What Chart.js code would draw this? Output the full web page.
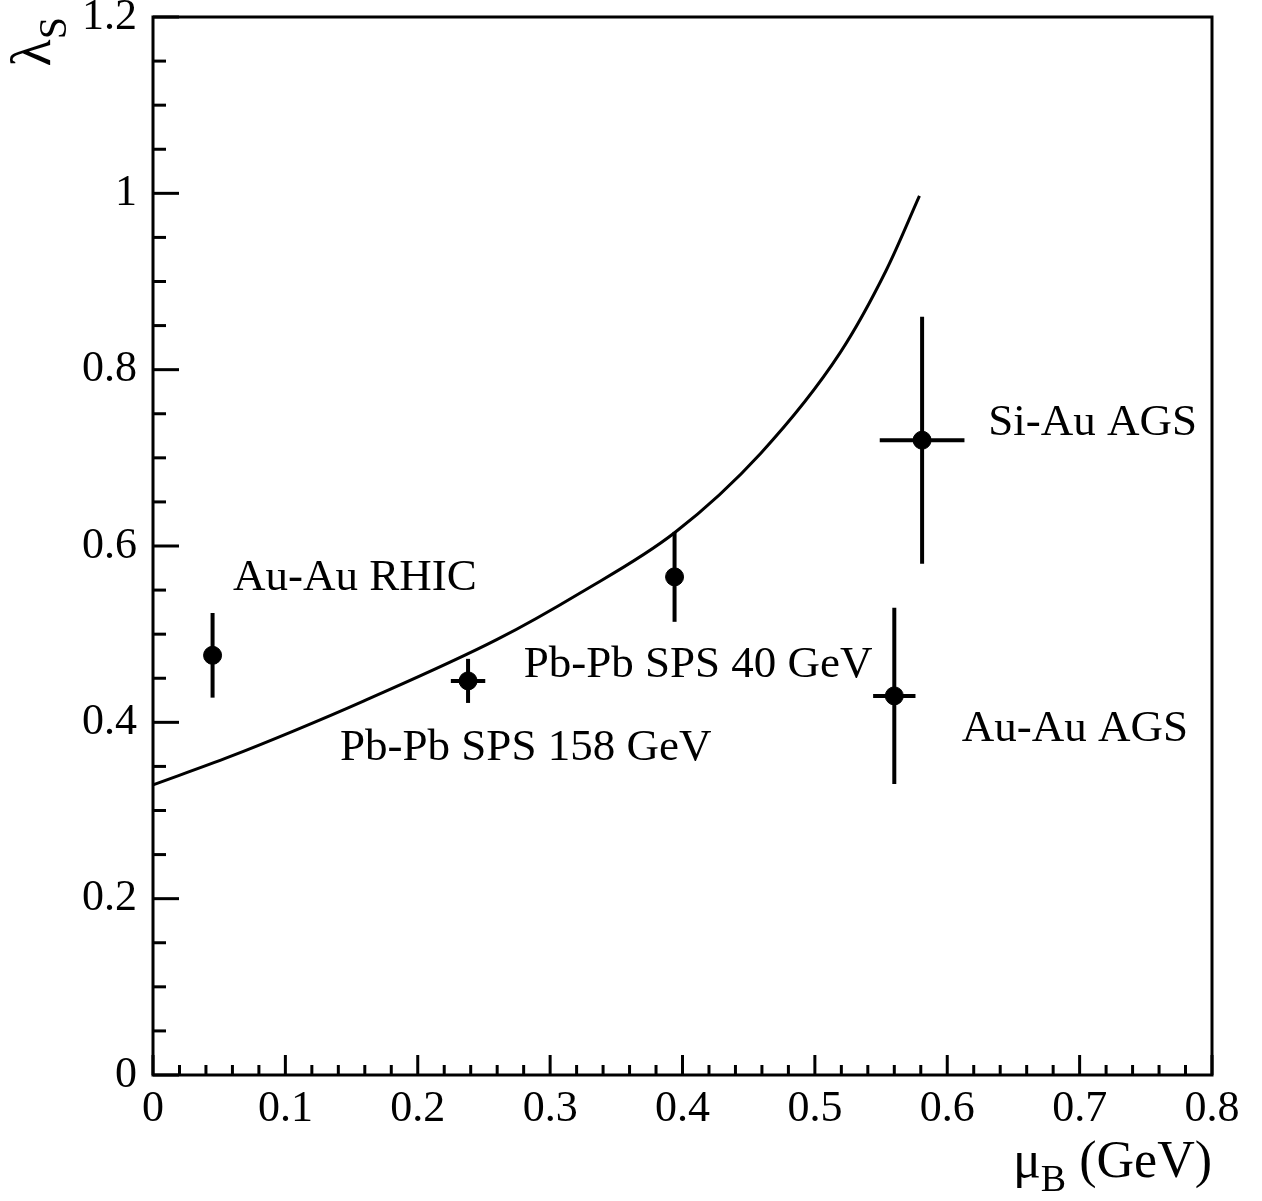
<!DOCTYPE html>
<html>
<head>
<meta charset="utf-8">
<script src="https://cdn.jsdelivr.net/npm/chart.js@4"></script>
<style>
html,body{margin:0;padding:0;background:#fff;}
canvas{display:block;}
</style>
</head>
<body>
<canvas id="c" width="1262" height="1201"></canvas>
<script>
// ---- data ----
const pointNames = ["Au-Au RHIC", "Pb-Pb SPS 158 GeV", "Pb-Pb SPS 40 GeV", "Au-Au AGS", "Si-Au AGS"];
const muB      = [0.045, 0.238, 0.394, 0.560, 0.581];
const lambdaS  = [0.476, 0.447, 0.565, 0.430, 0.720];
const muBErr   = [0.000, 0.013, 0.000, 0.016, 0.032];
const lambdaErr= [0.048, 0.025, 0.051, 0.100, 0.140];

const curveMuB    = [0.000, 0.058, 0.106, 0.159, 0.260, 0.323, 0.394, 0.459, 0.519, 0.554, 0.579];
const curveLambda = [0.329, 0.361, 0.390, 0.424, 0.494, 0.547, 0.615, 0.705, 0.819, 0.913, 0.997];

const xTicks = [0, 0.1, 0.2, 0.3, 0.4, 0.5, 0.6, 0.7, 0.8];
const yTicks = [0, 0.2, 0.4, 0.6, 0.8, 1.0, 1.2];

// label anchors (left, baseline) in data coordinates
const labelMuB    = [0.0604, 0.1413, 0.280, 0.611, 0.631];
const labelLambda = [0.550, 0.357, 0.451, 0.379, 0.726];

const SERIF = '"Liberation Serif", "DejaVu Serif", serif';

const pts = muB.map((x, i) => ({x: x, y: lambdaS[i]}));
const curve = curveMuB.map((x, i) => ({x: x, y: curveLambda[i]}));

const decor = {
  id: 'decor',
  beforeDatasetsDraw(chart) {
    const ctx = chart.ctx, xs = chart.scales.x, ys = chart.scales.y;
    ctx.save();
    ctx.strokeStyle = '#000';
    ctx.lineWidth = 4;
    ctx.lineCap = 'butt';
    for (let i = 0; i < muB.length; i++) {
      const px = xs.getPixelForValue(muB[i]);
      const py = ys.getPixelForValue(lambdaS[i]);
      if (lambdaErr[i] > 0) {
        ctx.beginPath();
        ctx.moveTo(px, ys.getPixelForValue(lambdaS[i] - lambdaErr[i]));
        ctx.lineTo(px, ys.getPixelForValue(lambdaS[i] + lambdaErr[i]));
        ctx.stroke();
      }
      if (muBErr[i] > 0) {
        ctx.beginPath();
        ctx.moveTo(xs.getPixelForValue(muB[i] - muBErr[i]), py);
        ctx.lineTo(xs.getPixelForValue(muB[i] + muBErr[i]), py);
        ctx.stroke();
      }
    }
    ctx.restore();
  },
  afterDraw(chart) {
    const ctx = chart.ctx, xs = chart.scales.x, ys = chart.scales.y;
    const a = chart.chartArea;
    ctx.save();
    ctx.strokeStyle = '#000';
    ctx.lineWidth = 3;
    ctx.strokeRect(a.left, a.top, a.right - a.left, a.bottom - a.top);
    // x ticks (inward)
    for (let k = 0; k <= 40; k++) {
      const v = k * 0.02;
      const px = xs.getPixelForValue(v);
      const len = (k % 5 === 0) ? 20 : 10;
      ctx.beginPath();
      ctx.moveTo(px, a.bottom);
      ctx.lineTo(px, a.bottom - len);
      ctx.stroke();
    }
    // y ticks (inward)
    for (let k = 0; k <= 24; k++) {
      const v = k * 0.05;
      const py = ys.getPixelForValue(v);
      const len = (k % 4 === 0) ? 26 : 13;
      ctx.beginPath();
      ctx.moveTo(a.left, py);
      ctx.lineTo(a.left + len, py);
      ctx.stroke();
    }
    // point labels
    ctx.fillStyle = '#000';
    ctx.font = '45px ' + SERIF;
    ctx.textAlign = 'left';
    ctx.textBaseline = 'alphabetic';
    for (let i = 0; i < pointNames.length; i++) {
      ctx.fillText(pointNames[i], xs.getPixelForValue(labelMuB[i]), ys.getPixelForValue(labelLambda[i]));
    }
    // x title: μB (GeV), right aligned at axis end
    const main = '52px ' + SERIF, sub = '38px ' + SERIF;
    ctx.font = main; const wMu = ctx.measureText('\u03bc').width; const wRest = ctx.measureText(' (GeV)').width;
    ctx.font = sub; const wB = ctx.measureText('B').width;
    let x0 = a.right - (wMu + wB + wRest);
    const by = 1177;
    ctx.font = main; ctx.fillText('\u03bc', x0, by);
    ctx.font = sub; ctx.fillText('B', x0 + wMu, by + 14);
    ctx.font = main; ctx.fillText(' (GeV)', x0 + wMu + wB, by);
    // y title: λS rotated
    ctx.translate(50, a.top);
    ctx.rotate(-Math.PI / 2);
    ctx.font = '56px ' + SERIF; const wL = ctx.measureText('\u03bb').width;
    ctx.font = '40px ' + SERIF; const wS = ctx.measureText('S').width;
    const sx = -(wL + wS);
    ctx.font = '56px ' + SERIF; ctx.fillText('\u03bb', sx, 0);
    ctx.font = '40px ' + SERIF; ctx.fillText('S', sx + wL, 16);
    ctx.restore();
  }
};

new Chart(document.getElementById('c'), {
  type: 'scatter',
  data: {
    datasets: [
      {
        type: 'line',
        data: curve,
        borderColor: '#000',
        borderWidth: 3,
        pointRadius: 0,
        fill: false,
        cubicInterpolationMode: 'monotone'
      },
      {
        data: pts,
        backgroundColor: '#000',
        borderColor: '#000',
        pointRadius: 9,
        pointHoverRadius: 9
      }
    ]
  },
  options: {
    responsive: false,
    animation: false,
    events: [],
    layout: { padding: { left: 0, top: 17, right: 50, bottom: 46 } },
    plugins: { legend: { display: false }, tooltip: { enabled: false } },
    scales: {
      x: {
        type: 'linear', min: 0, max: 0.8,
        afterBuildTicks(scale) { scale.ticks = xTicks.map(v => ({value: v})); },
        afterFit(scale) { scale.height = 80; scale.paddingLeft = 0; scale.paddingRight = 0; },
        grid: { display: false, drawTicks: false },
        border: { display: false },
        ticks: {
          color: '#000', font: { family: SERIF, size: 44 }, padding: 8, maxRotation: 0, autoSkip: false,
          callback: v => String(Math.round(v * 10) / 10)
        }
      },
      y: {
        type: 'linear', min: 0, max: 1.2,
        afterBuildTicks(scale) { scale.ticks = yTicks.map(v => ({value: v})); },
        afterFit(scale) { scale.width = 153; scale.paddingTop = 0; scale.paddingBottom = 0; },
        grid: { display: false, drawTicks: false },
        border: { display: false },
        ticks: {
          color: '#000', font: { family: SERIF, size: 44 }, padding: 16, autoSkip: false,
          callback: v => String(Math.round(v * 10) / 10)
        }
      }
    }
  },
  plugins: [decor]
});
</script>
</body>
</html>
